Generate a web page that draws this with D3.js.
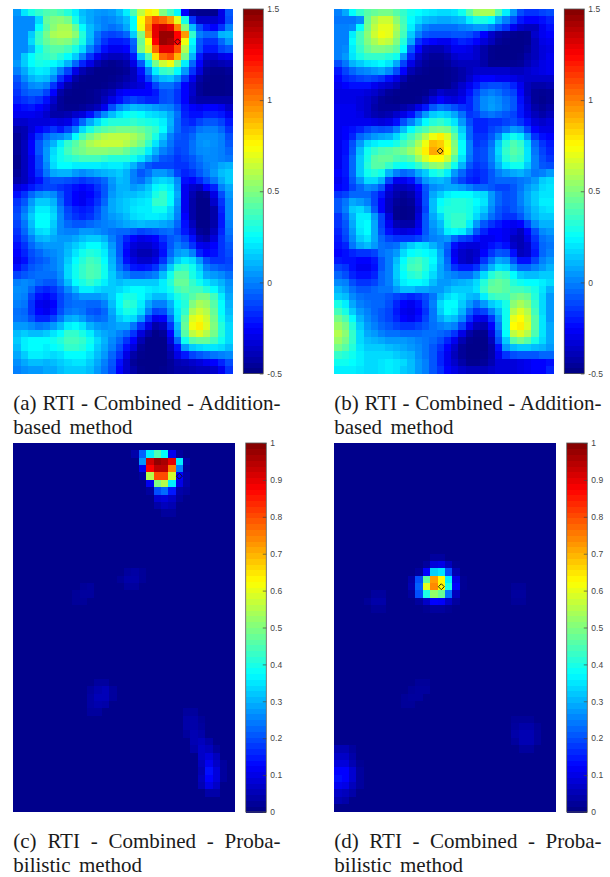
<!DOCTYPE html>
<html>
<head>
<meta charset="utf-8">
<script src="https://d3js.org/d3.v7.min.js"></script>
<style>
  body { margin: 0; background: #fff; }
  .tick text { font-family: "Liberation Sans", sans-serif; font-size: 8.5px; fill: #444; }
  .caption { font-family: "Liberation Serif", serif; font-size: 21px; fill: #1a1a1a; }
</style>
</head>
<body>
<div id="chart"></div>
<script>
// RTI heatmaps, 30 columns x 50 rows

// Map (a), values in hundredths
var mapA = [
[5,20,30,35,40,42,38,32,22,12,8,5,4,6,12,22,40,62,78,72,50,38,24,-25,-45,-47,-47,-47,-30,-8],
[2,2,2,18,45,50,52,48,30,15,8,3,0,2,6,12,25,75,95,110,105,95,70,30,-15,-35,-35,-35,-30,-10],
[2,2,2,25,42,52,58,58,45,25,12,5,0,-3,0,8,25,72,100,130,135,130,100,50,12,-10,-20,-25,-15,0],
[2,2,15,35,48,58,60,60,52,32,12,-2,-10,-12,-10,-5,15,50,95,130,145,145,125,95,35,0,-5,-5,10,12],
[2,2,18,36,45,50,52,50,42,30,10,-5,-15,-20,-20,-18,-5,45,75,125,145,142,125,72,25,-8,-15,-15,-5,5],
[2,2,10,28,38,42,42,38,30,18,0,-12,-22,-28,-28,-25,-8,48,68,105,130,130,110,60,20,-10,-20,-20,-12,-8],
[2,15,25,32,35,38,32,25,15,0,-15,-28,-35,-38,-38,-35,-20,15,40,80,105,110,90,48,10,-20,-35,-35,-30,-28],
[5,15,25,30,28,25,20,10,-5,-18,-30,-40,-45,-47,-45,-42,-30,-8,20,48,65,72,50,22,-5,-25,-40,-42,-40,-38],
[0,8,18,22,20,12,0,-12,-30,-40,-45,-48,-48,-48,-47,-45,-38,-22,0,22,35,38,25,5,-15,-32,-45,-47,-47,-45],
[-8,2,10,14,12,2,-15,-28,-42,-47,-48,-48,-48,-47,-45,-42,-38,-28,-12,5,12,14,5,-12,-28,-42,-47,-48,-48,-47],
[-12,-5,2,4,0,-15,-30,-42,-47,-48,-48,-48,-47,-45,-42,-38,-35,-32,-25,-12,-3,-3,-10,-25,-35,-45,-48,-48,-48,-47],
[-15,-8,-5,-5,-12,-25,-42,-47,-48,-48,-47,-45,-42,-38,-28,-25,-25,-25,-25,-20,-10,-8,-15,-25,-35,-45,-48,-48,-48,-47],
[-18,-15,-12,-15,-22,-35,-45,-48,-48,-48,-47,-45,-38,-30,-22,-15,-12,-15,-18,-18,-10,-8,-15,-25,-38,-42,-42,-42,-42,-42],
[-25,-22,-20,-25,-30,-40,-45,-47,-47,-45,-42,-38,-28,-10,2,8,12,10,8,5,2,0,-8,-20,-25,-28,-25,-25,-28,-35],
[-28,-28,-28,-30,-35,-42,-42,-40,-35,-32,-22,-10,2,12,20,25,28,25,20,18,15,8,-3,-18,-22,-22,-18,-18,-20,-28],
[-35,-35,-32,-32,-32,-30,-32,-30,-18,-5,8,18,28,32,32,32,35,32,30,28,22,10,-5,-15,-18,-12,-8,-8,-12,-20],
[-42,-40,-32,-25,-20,-15,-20,-12,0,18,30,38,42,45,48,48,48,45,40,35,25,8,-5,-12,-10,-2,0,0,-5,-15],
[-45,-40,-28,-15,-5,0,2,8,25,38,48,55,60,62,62,62,58,52,42,30,15,0,-8,-10,-5,3,3,3,0,-10],
[-45,-38,-25,-8,2,10,22,35,42,50,58,62,64,64,64,60,55,48,35,20,8,-2,-10,-10,-3,3,5,3,0,-8],
[-45,-38,-25,-8,5,18,28,38,45,48,52,52,52,50,50,45,38,35,22,10,0,-5,-12,-10,-3,2,3,2,0,-5],
[-47,-38,-28,-12,5,20,28,32,35,38,38,38,35,32,32,32,28,20,10,0,-8,-10,-15,-12,-8,-2,2,2,0,-2],
[-47,-38,-28,-12,2,18,25,25,22,22,22,22,20,22,22,18,10,0,-8,-12,-12,-12,-15,-15,-10,-5,0,3,8,10],
[-45,-38,-28,-15,-2,8,10,10,5,2,5,8,10,12,15,10,0,-8,-3,5,5,0,-12,-18,-15,-8,-2,5,12,15],
[-42,-38,-30,-22,-12,-8,-8,-10,-12,-15,-12,-10,-5,5,12,10,0,-3,5,15,18,15,2,-22,-25,-18,-10,-2,8,15],
[-32,-28,-20,-15,-12,-12,-15,-18,-22,-25,-22,-15,-8,3,10,10,5,8,14,24,28,22,5,-28,-35,-38,-25,-18,0,8],
[-22,-15,-5,2,5,2,-8,-18,-25,-28,-25,-18,-8,5,10,12,12,15,18,30,35,25,8,-28,-40,-47,-45,-30,-10,5],
[-15,-8,5,15,15,10,-5,-18,-25,-28,-22,-15,-5,8,12,15,18,20,22,35,35,25,5,-28,-42,-48,-48,-35,-15,2],
[-12,-2,10,22,22,15,0,-12,-18,-20,-18,-10,0,8,12,15,20,22,22,28,28,18,2,-28,-42,-48,-48,-42,-18,2],
[-10,2,15,25,25,18,2,-10,-15,-18,-15,-8,0,5,8,12,18,20,22,22,20,15,0,-25,-42,-48,-48,-42,-20,2],
[-12,-2,12,25,25,15,2,-5,-8,-8,-5,-2,0,2,5,8,10,12,10,10,8,5,-5,-22,-38,-48,-48,-42,-20,0],
[-15,-5,8,18,20,12,2,0,0,5,5,3,0,-3,-5,-5,-8,-12,-10,-8,-5,-3,-10,-20,-32,-45,-47,-38,-18,-2],
[-18,-10,0,10,12,8,5,5,8,12,15,15,10,0,-8,-18,-25,-30,-28,-25,-15,-8,-5,-12,-22,-38,-42,-32,-15,-5],
[-22,-15,-5,2,5,5,5,10,15,20,25,25,18,5,-8,-22,-32,-35,-35,-30,-20,-8,0,-5,-15,-28,-30,-25,-15,-8],
[-25,-18,-10,-5,0,2,5,12,20,28,32,30,22,8,-8,-25,-35,-40,-40,-35,-22,-5,5,8,0,-18,-25,-22,-15,-10],
[-28,-22,-12,-8,-5,0,5,15,25,32,38,35,25,10,-5,-22,-30,-35,-35,-30,-15,2,15,22,18,5,-10,-15,-15,-12],
[-22,-15,-8,-5,-2,0,5,18,28,35,40,38,28,12,-2,-12,-20,-22,-20,-15,-2,15,32,35,28,15,0,-5,-8,-10],
[-12,-8,-5,-3,-3,-3,3,18,28,35,40,38,28,15,5,0,-5,-5,-3,0,12,28,42,42,30,20,8,5,2,-3],
[0,2,0,-5,-8,-8,0,12,25,30,35,30,22,15,12,15,15,15,15,15,22,32,45,45,35,28,20,15,10,3],
[3,2,-5,-15,-18,-15,-8,2,12,22,22,18,15,15,18,22,25,25,22,20,22,28,38,42,38,38,32,25,15,5],
[2,0,-12,-22,-25,-20,-12,-5,0,5,5,5,8,15,25,30,30,25,18,12,12,20,30,35,42,48,48,38,22,8],
[0,-2,-15,-28,-30,-25,-12,-5,-3,-3,-5,-5,0,12,25,35,32,22,8,0,0,10,25,32,50,58,55,42,25,10],
[-3,-5,-15,-25,-28,-22,-10,-2,0,-2,-8,-10,-5,8,22,30,28,18,0,-12,-10,5,22,35,58,65,60,45,25,12],
[-2,-3,-10,-18,-18,-12,-2,8,10,5,-2,-5,-3,5,15,20,18,5,-15,-28,-25,-5,20,42,68,72,65,48,28,15],
[5,5,2,-2,0,5,12,22,25,20,10,5,3,5,8,8,-2,-15,-30,-42,-38,-15,12,45,72,78,68,50,32,18],
[12,15,12,12,15,20,25,35,35,30,22,12,8,5,0,-5,-15,-32,-42,-48,-45,-25,8,42,62,68,60,48,32,18],
[15,22,25,25,25,28,32,38,38,35,28,18,10,2,-5,-15,-25,-40,-48,-48,-48,-32,-5,28,42,45,45,38,28,18],
[12,22,25,25,22,25,28,35,35,32,25,15,8,0,-10,-22,-32,-45,-48,-48,-48,-38,-22,5,15,18,20,20,18,12],
[8,15,22,22,20,18,20,25,25,25,20,12,5,-5,-15,-30,-42,-47,-48,-48,-48,-42,-30,-20,-12,-8,-5,-2,0,2],
[3,8,12,12,10,12,15,18,20,20,15,8,0,-8,-22,-35,-45,-48,-48,-48,-48,-45,-40,-38,-35,-32,-28,-25,-18,-10],
[0,3,5,5,8,8,12,15,15,15,12,5,-2,-10,-25,-35,-42,-47,-48,-48,-47,-45,-42,-42,-40,-38,-38,-35,-28,-15]
];

// Map (b), values in hundredths
var mapB = [
[0,8,25,35,42,45,48,48,42,35,28,25,22,20,18,18,20,28,42,55,58,58,40,22,5,-10,-15,-15,-12,-10],
[-2,-2,-2,2,45,58,65,65,52,38,25,18,12,10,8,8,10,12,22,30,30,25,10,0,-10,-20,-25,-25,-22,-18],
[0,0,2,25,48,62,70,70,58,40,22,8,0,-3,-3,-3,-3,0,2,5,5,0,-8,-15,-28,-35,-38,-38,-28,-22],
[0,0,22,38,52,65,72,70,55,38,15,0,-8,-10,-10,-10,-8,-8,-10,-15,-25,-35,-42,-45,-47,-48,-47,-35,-28,-25],
[0,0,25,38,50,58,65,62,50,32,8,-15,-22,-25,-28,-28,-22,-18,-20,-25,-32,-38,-45,-47,-48,-48,-47,-38,-30,-28],
[0,2,22,35,45,50,50,48,42,25,-8,-25,-38,-40,-40,-35,-28,-28,-30,-35,-42,-47,-48,-48,-48,-48,-45,-38,-32,-30],
[0,5,20,30,35,35,35,32,28,5,-18,-35,-42,-45,-45,-42,-35,-32,-32,-35,-42,-47,-48,-48,-48,-47,-42,-38,-32,-28],
[-10,-2,10,15,20,22,25,20,8,-12,-30,-40,-45,-47,-47,-45,-40,-38,-38,-38,-42,-47,-47,-47,-46,-45,-40,-35,-30,-28],
[-20,-12,-5,0,2,5,8,2,-10,-25,-40,-45,-47,-48,-48,-47,-45,-42,-38,-35,-35,-35,-35,-35,-38,-38,-35,-32,-30,-28],
[-25,-18,-15,-12,-10,-12,-15,-22,-30,-40,-47,-48,-48,-48,-48,-47,-45,-42,-35,-28,-25,-25,-28,-28,-30,-33,-35,-35,-35,-35],
[-28,-25,-22,-22,-22,-28,-32,-35,-40,-47,-48,-48,-48,-48,-48,-47,-42,-35,-28,-20,-12,-10,-10,-12,-18,-28,-38,-42,-42,-40],
[-30,-30,-30,-30,-32,-35,-40,-45,-47,-48,-48,-48,-47,-42,-35,-38,-38,-32,-22,-12,-3,0,-3,-8,-12,-25,-38,-45,-46,-45],
[-30,-30,-30,-32,-35,-40,-45,-47,-48,-48,-48,-47,-42,-32,-25,-30,-32,-28,-18,-8,2,5,2,-3,-8,-22,-35,-45,-47,-45],
[-28,-28,-28,-32,-35,-42,-45,-45,-45,-42,-38,-30,-20,-8,-2,-5,-10,-15,-18,-8,2,6,3,-2,-8,-20,-32,-42,-45,-42],
[-28,-28,-28,-30,-35,-40,-42,-40,-35,-30,-22,-8,5,15,18,15,8,-3,-15,-12,-5,-2,-5,-8,-12,-20,-30,-38,-42,-38],
[-28,-28,-28,-28,-28,-30,-32,-30,-22,-10,0,12,25,32,35,30,20,5,-10,-18,-18,-15,-15,-12,-10,-15,-22,-32,-35,-32],
[-28,-25,-22,-18,-12,-8,-10,-8,0,12,25,35,40,48,50,48,35,15,-5,-18,-18,-12,-8,-2,5,2,-12,-25,-30,-30],
[-28,-25,-18,-5,0,5,8,10,18,30,38,48,60,72,78,68,45,20,-5,-15,-15,-8,3,20,28,22,5,-15,-22,-25],
[-28,-22,-10,5,18,22,25,25,30,38,45,58,72,88,85,72,50,25,0,-15,-12,-3,15,32,40,35,18,-5,-15,-20],
[-28,-22,-8,12,28,35,40,42,45,48,55,65,78,92,88,75,52,25,0,-12,-10,0,18,35,42,38,20,-2,-12,-18],
[-28,-20,-5,15,30,42,45,45,40,38,42,55,68,75,75,65,42,20,-2,-12,-10,0,15,32,38,35,20,0,-10,-15],
[-28,-20,-5,15,32,42,42,35,28,25,28,35,45,52,55,45,28,10,-8,-15,-12,-3,10,22,28,28,15,0,-8,-10],
[-25,-20,-5,15,28,32,28,10,0,-5,-2,8,15,28,32,22,5,-5,-15,-18,-15,-8,0,5,8,10,5,-2,0,5],
[-28,-22,-8,5,18,18,10,-12,-28,-28,-22,-8,5,10,12,8,-5,-12,-18,-20,-15,-8,-5,-5,-5,-2,0,5,15,18],
[-25,-22,-12,-5,2,0,-8,-30,-38,-38,-35,-25,-8,2,5,8,8,5,0,-5,-5,-8,-12,-12,-8,-2,5,10,18,20],
[-15,-12,-5,-5,-5,-12,-20,-35,-42,-45,-42,-30,-10,8,15,22,25,25,25,20,18,5,-5,-10,-8,0,8,15,20,20],
[-8,-2,8,5,0,-12,-25,-38,-45,-47,-45,-32,-10,12,25,30,32,32,30,25,20,5,-5,-10,-8,0,8,15,22,22],
[-8,0,15,18,10,-8,-25,-38,-47,-48,-47,-35,-12,12,28,32,32,32,30,22,15,2,-8,-12,-8,-3,5,12,18,20],
[-15,-5,10,22,22,5,-12,-32,-47,-48,-47,-32,-8,8,18,32,35,35,30,18,8,-3,-10,-15,-15,-8,2,10,15,15],
[-15,-8,8,22,25,8,-12,-28,-40,-42,-42,-30,-8,5,12,30,35,35,22,5,-8,-15,-20,-25,-28,-25,-12,2,10,10],
[-18,-10,5,20,25,8,-10,-22,-30,-32,-30,-25,-8,2,8,22,25,22,10,-8,-18,-25,-25,-28,-32,-38,-25,-10,2,5],
[-20,-12,2,15,20,8,-5,-12,-15,-15,-15,-12,-5,0,2,5,-5,-12,-15,-22,-28,-28,-25,-28,-38,-40,-30,-15,-3,0],
[-22,-18,-2,8,12,5,-3,-5,-3,8,15,20,18,10,3,-5,-22,-30,-32,-32,-28,-22,-18,-22,-35,-40,-35,-18,-5,-2],
[-25,-22,-18,-15,-15,-12,-3,0,5,18,25,28,25,22,8,-8,-28,-35,-38,-35,-25,-15,-8,-10,-22,-38,-35,-20,-5,0],
[-20,-22,-22,-25,-25,-20,-8,0,12,25,35,38,32,25,10,-5,-25,-35,-38,-32,-15,-3,8,5,-10,-22,-22,-12,0,5],
[-12,-15,-22,-28,-28,-22,-8,0,15,28,38,40,32,22,8,-2,-15,-20,-20,-15,-2,10,20,18,5,-5,-5,0,5,10],
[-5,-10,-18,-22,-22,-18,-5,0,15,25,32,35,28,18,8,3,0,-3,-3,5,18,32,38,35,25,15,12,12,15,15],
[2,0,-10,-15,-15,-12,-5,0,12,22,25,25,22,12,5,5,8,10,12,18,32,42,45,42,32,28,25,25,22,18],
[10,5,-3,-8,-8,-5,-2,-2,5,12,12,8,8,5,5,10,15,15,15,20,35,45,45,42,38,38,35,30,20,10],
[15,12,2,-3,-5,-5,-5,-8,-12,-15,-18,-15,-10,-2,10,18,22,18,12,10,22,35,38,38,45,48,45,32,18,5],
[30,22,8,0,-3,-5,-5,-10,-18,-25,-28,-22,-12,0,18,25,25,15,5,-3,5,15,20,30,52,58,52,35,18,5],
[38,30,15,5,0,-5,-8,-12,-20,-28,-30,-25,-15,-2,15,25,22,10,-5,-15,-12,0,12,28,60,68,60,38,18,5],
[48,40,25,10,2,-3,-8,-12,-18,-25,-28,-22,-12,-2,8,15,12,2,-15,-28,-30,-15,5,28,70,75,65,42,20,5],
[55,48,32,15,5,0,-5,-8,-12,-15,-15,-12,-8,-3,0,3,0,-12,-28,-38,-40,-25,0,28,75,78,68,42,20,8],
[60,52,35,18,8,5,0,-3,-3,-5,-5,-5,-3,-3,-5,-8,-15,-30,-42,-47,-47,-32,-5,25,62,68,60,40,20,8],
[55,48,35,18,12,10,8,5,5,5,3,0,-2,-5,-10,-18,-28,-40,-47,-48,-48,-38,-10,15,42,48,42,30,18,8],
[48,42,32,20,15,15,15,12,10,8,5,2,-2,-8,-15,-25,-35,-45,-48,-48,-48,-42,-22,5,12,15,15,12,10,5],
[35,32,28,22,18,18,18,18,15,12,10,3,-2,-8,-18,-28,-38,-45,-48,-48,-47,-42,-28,-15,-10,-8,-8,-8,-5,-5],
[28,28,25,22,18,18,20,22,20,18,12,5,0,-8,-18,-28,-35,-42,-47,-47,-45,-40,-32,-32,-32,-30,-28,-25,-25,-22],
[22,22,22,20,18,18,20,22,20,15,12,5,0,-8,-15,-25,-30,-35,-38,-38,-38,-35,-32,-32,-32,-30,-28,-25,-25,-18]
];

// Maps (c) and (d) are nearly flat, so only the cells above the floor value: [row, col, value]
var floorC = 0.012;
var floorD = 0.012;

var cellsC = [
[1,16,.04],[1,17,.22],[1,18,.36],[1,19,.45],[1,20,.38],[1,21,.11],[1,22,.03],
[2,17,.27],[2,18,.92],[2,19,.98],[2,20,.96],[2,21,.9],[2,22,.36],[2,23,.04],
[3,17,.11],[3,18,.87],[3,19,.94],[3,20,.94],[3,21,.75],[3,22,.25],[3,23,.03],
[4,17,.03],[4,18,.55],[4,19,.8],[4,20,.8],[4,21,.58],[4,22,.12],[4,23,.04],
[5,18,.11],[5,19,.5],[5,20,.55],[5,21,.36],[5,22,.1],[5,23,.04],
[6,18,.03],[6,19,.2],[6,20,.23],[6,21,.15],[6,22,.04],[6,23,.03],
[7,19,.08],[7,20,.09],[7,21,.07],[7,22,.03],
[8,19,.04],[8,20,.06],[8,21,.05],[9,20,.03],[9,21,.03],
[17,15,.03],[17,16,.035],[17,17,.025],[18,14,.025],[18,15,.04],[18,16,.04],[18,17,.025],[19,15,.03],[19,16,.03],
[19,9,.025],[19,10,.03],[20,8,.025],[20,9,.03],[20,10,.03],[21,8,.025],[21,9,.025],
[32,11,.03],[32,12,.03],[33,10,.03],[33,11,.045],[33,12,.055],[33,13,.03],
[34,10,.035],[34,11,.055],[34,12,.055],[34,13,.03],[35,10,.035],[35,11,.045],[35,12,.04],[36,10,.03],[36,11,.03],
[36,23,.03],[36,24,.03],[37,23,.04],[37,24,.04],[37,25,.025],[38,23,.04],[38,24,.04],[38,25,.03],
[39,23,.03],[39,24,.05],[39,25,.04],[40,24,.05],[40,25,.06],[40,26,.04],
[41,24,.04],[41,25,.07],[41,26,.06],[41,27,.03],[42,25,.07],[42,26,.09],[42,27,.06],
[43,25,.06],[43,26,.11],[43,27,.07],[43,28,.03],[44,25,.05],[44,26,.14],[44,27,.09],[44,28,.03],
[45,25,.06],[45,26,.13],[45,27,.09],[45,28,.03],[46,25,.05],[46,26,.1],[46,27,.07],[47,26,.04],[47,27,.04]
];

var cellsD = [
[15,13,.03],[15,14,.03],
[16,12,.03],[16,13,.09],[16,14,.1],[16,15,.06],[16,16,.02],
[17,11,.03],[17,12,.13],[17,13,.33],[17,14,.35],[17,15,.2],[17,16,.05],
[18,10,.04],[18,11,.2],[18,12,.47],[18,13,.72],[18,14,.63],[18,15,.36],[18,16,.1],[18,17,.02],
[19,10,.05],[19,11,.22],[19,12,.6],[19,13,.74],[19,14,.63],[19,15,.4],[19,16,.12],[19,17,.02],
[20,10,.03],[20,11,.2],[20,12,.4],[20,13,.52],[20,14,.48],[20,15,.24],[20,16,.06],
[21,11,.03],[21,12,.07],[21,13,.13],[21,14,.12],[21,15,.07],[21,16,.03],
[22,12,.02],[22,13,.03],[22,14,.03],[22,15,.02],
[20,5,.03],[20,6,.03],[21,4,.025],[21,5,.04],[21,6,.04],[22,5,.025],[22,6,.025],
[19,24,.025],[19,25,.025],[20,24,.03],[20,25,.03],[21,24,.025],[21,25,.025],
[32,11,.025],[32,12,.025],[33,10,.025],[33,11,.03],[33,12,.03],[34,9,.025],[34,10,.03],[34,11,.03],[35,9,.025],[35,10,.025],
[37,24,.025],[37,25,.025],[37,26,.025],[38,24,.03],[38,25,.04],[38,26,.04],[38,27,.025],
[39,24,.04],[39,25,.05],[39,26,.05],[39,27,.03],[40,24,.03],[40,25,.05],[40,26,.05],[40,27,.03],[41,25,.03],[41,26,.03],
[41,0,.05],[41,1,.05],[41,2,.03],[42,0,.07],[42,1,.07],[42,2,.04],
[43,0,.09],[43,1,.09],[43,2,.05],[43,3,.02],[44,0,.13],[44,1,.13],[44,2,.08],[44,3,.03],
[45,0,.14],[45,1,.13],[45,2,.08],[45,3,.03],[46,0,.11],[46,1,.1],[46,2,.06],[46,3,.03],
[47,0,.07],[47,1,.06],[47,2,.04],[48,0,.05],[48,1,.04]
];

// Colorbar ticks
var ticksAB = [-0.5, 0, 0.5, 1, 1.5];
var ticksCD = [0, 0.1, 0.2, 0.3, 0.4, 0.5, 0.6, 0.7, 0.8, 0.9, 1];

// Marker position in grid units: [col, row]
var markerAC = [22.5, 4.5];
var markerBD = [14.5, 19.5];

// Captions
var capsA = ["(a) RTI - Combined - Addition-", "based method"];
var capsB = ["(b) RTI - Combined - Addition-", "based method"];
var capsC = ["(c) RTI - Combined - Proba-", "bilistic method"];
var capsD = ["(d) RTI - Combined - Proba-", "bilistic method"];

var numCols = 30;
var numRows = 50;

// Expand the sparse lists to a full grid
function expand(cells, floor) {
    var grid = d3.range(numRows).map(function() {
        return d3.range(numCols).map(function() { return floor; });
    });
    cells.forEach(function(c) { grid[c[0]][c[1]] = c[2]; });
    return grid;
}

function hundredths(grid) {
    return grid.map(function(row) {
        return row.map(function(v) { return v / 100; });
    });
}

// Panel layout
var panels = [
    {grid: hundredths(mapA), ticks: ticksAB, marker: markerAC, caps: capsA,
     x: [13.3, 232.3], y: [9, 373.3], bar: [243.3, 263.3], barY: [9, 373.5],
     capY: [409.5, 433.5], capEnd: [280.5, 132.5]},
    {grid: hundredths(mapB), ticks: ticksAB, marker: markerBD, caps: capsB,
     x: [334.3, 553.3], y: [9, 373.3], bar: [564.3, 584.3], barY: [9, 373.5],
     capY: [409.5, 433.5], capEnd: [601.5, 453.5]},
    {grid: expand(cellsC, floorC), ticks: ticksCD, marker: markerAC, caps: capsC,
     x: [13.3, 234.7], y: [443, 811.5], bar: [245.7, 266.3], barY: [443, 812],
     capY: [847.5, 871.5], capEnd: [280.5, 142]},
    {grid: expand(cellsD, floorD), ticks: ticksCD, marker: markerBD, caps: capsD,
     x: [334.3, 555.7], y: [443, 811.5], bar: [566.7, 587.3], barY: [443, 812],
     capY: [847.5, 871.5], capEnd: [601.5, 463]}
];

var svg = d3.select("#chart")
    .append("svg")
    .attr("width", 610)
    .attr("height", 877)
    .style("display", "block");

// A little softening, the reference is a scanned-in raster
svg.append("defs").append("filter")
    .attr("id", "soft")
    .append("feGaussianBlur")
    .attr("stdDeviation", 0.4);

// MATLAB jet
function jetScale(lo, hi) {
    var span = hi - lo;
    return d3.scaleLinear()
        .domain([0, 0.125, 0.375, 0.625, 0.875, 1].map(function(t) { return lo + t * span; }))
        .range(["#000080", "#0000ff", "#00ffff", "#ffff00", "#ff0000", "#800000"])
        .clamp(true);
}

panels.forEach(function(p) {
    var lo = p.ticks[0];
    var hi = p.ticks[p.ticks.length - 1];
    var color = jetScale(lo, hi);

    var xScale = d3.scaleBand().domain(d3.range(numCols)).range(p.x);
    var yScale = d3.scaleBand().domain(d3.range(numRows)).range(p.y);
    var xGrid = d3.scaleLinear().domain([0, numCols]).range(p.x);
    var yGrid = d3.scaleLinear().domain([0, numRows]).range(p.y);

    // Heatmap cells
    var map = svg.append("g")
        .attr("filter", "url(#soft)")
        .attr("shape-rendering", "crispEdges");
    p.grid.forEach(function(row, r) {
        map.selectAll(null)
            .data(row)
            .enter()
            .append("rect")
            .attr("x", function(d, c) { return xScale(c); })
            .attr("y", yScale(r))
            .attr("width", xScale.bandwidth() + 0.5)
            .attr("height", yScale.bandwidth() + 0.5)
            .attr("fill", function(d) { return color(d); });
    });

    // Diamond marker
    svg.append("path")
        .attr("d", d3.symbol().type(d3.symbolDiamond2).size(22))
        .attr("transform", "translate(" + xGrid(p.marker[0]) + "," + yGrid(p.marker[1]) + ")")
        .attr("fill", "none")
        .attr("stroke", "#111")
        .attr("stroke-width", 0.9);

    // Colorbar
    var barScale = d3.scaleLinear().domain([lo, hi]).range([p.barY[1], p.barY[0]]);
    var steps = d3.range(64);
    var stepH = (p.barY[1] - p.barY[0]) / 64;
    svg.append("g")
        .attr("shape-rendering", "crispEdges")
        .selectAll("rect")
        .data(steps)
        .enter()
        .append("rect")
        .attr("x", p.bar[0])
        .attr("y", function(d) { return barScale(lo + (d + 1) / 64 * (hi - lo)); })
        .attr("width", p.bar[1] - p.bar[0])
        .attr("height", stepH + 0.5)
        .attr("fill", function(d) { return color(lo + (d + 0.5) / 64 * (hi - lo)); });

    svg.append("rect")
        .attr("x", p.bar[0])
        .attr("y", p.barY[0])
        .attr("width", p.bar[1] - p.bar[0])
        .attr("height", p.barY[1] - p.barY[0])
        .attr("fill", "none")
        .attr("stroke", "#555")
        .attr("stroke-width", 0.8);

    var axis = d3.axisRight(barScale)
        .tickValues(p.ticks)
        .tickFormat(function(d) { return String(d); })
        .tickSizeInner(-3.5)
        .tickSizeOuter(0)
        .tickPadding(4);

    var gAxis = svg.append("g")
        .attr("transform", "translate(" + p.bar[1] + ",0)")
        .call(axis);
    gAxis.select(".domain").remove();
    gAxis.selectAll(".tick line").attr("stroke", "#444").attr("stroke-width", 0.7);

    // Captions, justified by word spacing like the two column layout
    p.caps.forEach(function(line, i) {
        var t = svg.append("text")
            .attr("class", "caption")
            .attr("x", p.x[0])
            .attr("y", p.capY[i])
            .text(line);
        var gaps = line.split(" ").length - 1;
        var extra = (p.capEnd[i] - p.x[0] - t.node().getComputedTextLength()) / gaps;
        t.style("word-spacing", extra + "px");
    });
});
</script>
</body>
</html>
